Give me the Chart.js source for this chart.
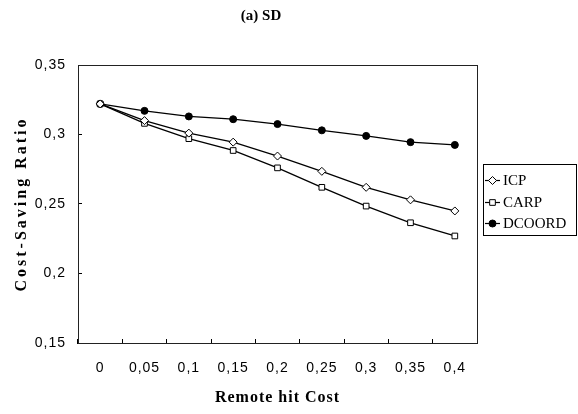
<!DOCTYPE html>
<html><head><meta charset="utf-8">
<script src="https://cdn.jsdelivr.net/npm/chart.js@4/dist/chart.umd.min.js"></script>
<style>html,body{margin:0;padding:0;background:#fff}</style></head>
<body><canvas id="c" width="578" height="414" style="display:block;width:578px;height:414px"></canvas>
<script>
const categories = ['0','0,05','0,1','0,15','0,2','0,25','0,3','0,35','0,4'];
const icp    = [0.322, 0.310, 0.301, 0.2945, 0.2845, 0.2735, 0.262, 0.253, 0.245];
const carp   = [0.322, 0.308, 0.297, 0.2885, 0.276, 0.262, 0.2485, 0.2365, 0.227];
const dcoord = [0.322, 0.317, 0.313, 0.311, 0.3075, 0.303, 0.299, 0.2945, 0.2925];
const seriesNames = ['ICP','CARP','DCOORD'];
const yTicks = [0.15, 0.2, 0.25, 0.3, 0.35];
const chartTitle = '(a) SD';
const xTitle = 'Remote hit Cost';
const yTitle = 'Cost-Saving Ratio';

const fmt = v => String(+v.toFixed(2)).replace('.', ',');

const serif = "'Liberation Serif', 'Times New Roman', serif";
const sans = "'Liberation Sans Narrow', 'Liberation Sans', Arial, sans-serif";

const decorPlugin = {
  id: 'decor',
  beforeDraw(chart) { chart.ctx.letterSpacing = '1px'; },
  beforeDatasetsDraw(chart) { chart.ctx.letterSpacing = '0px'; },
  afterDraw(chart) {
    const ctx = chart.ctx;
    const a = chart.chartArea;
    ctx.save();
    ctx.letterSpacing = '0px';
    // plot frame
    ctx.strokeStyle = '#222';
    ctx.lineWidth = 1;
    ctx.strokeRect(Math.round(a.left) + 0.5, Math.round(a.top) + 0.5, Math.round(a.right - a.left), Math.round(a.bottom - a.top));
    // chart title
    ctx.fillStyle = '#000';
    ctx.font = "bold 15px " + serif;
    ctx.textAlign = 'center';
    ctx.textBaseline = 'middle';
    ctx.fillText(chartTitle, 261, 16);
    // axis titles
    ctx.font = "bold 16px " + serif;
    ctx.letterSpacing = '1px';
    ctx.fillText(xTitle, (a.left + a.right) / 2, 398);
    ctx.save();
    ctx.translate(22, (a.top + a.bottom) / 2);
    ctx.rotate(-Math.PI / 2);
    ctx.letterSpacing = '3px';
    ctx.fillText(yTitle, 0, 0);
    ctx.restore();
    ctx.letterSpacing = '0px';
    // legend
    const bx = 483, by = 164, bw = 94, bh = 71;
    ctx.strokeStyle = '#000';
    ctx.lineWidth = 1;
    ctx.strokeRect(bx + 0.5, by + 0.5, bw - 1, bh);
    const rows = [180, 202, 223];
    ctx.font = "15px " + serif;
    ctx.textAlign = 'left';
    chart.data.datasets.forEach((ds, i) => {
      const y = rows[i] + 0.5;
      ctx.strokeStyle = '#000';
      ctx.lineWidth = 1.2;
      ctx.beginPath();
      ctx.moveTo(485, y);
      ctx.lineTo(500, y);
      ctx.stroke();
      ctx.fillStyle = ds.pointBackgroundColor;
      ctx.strokeStyle = ds.pointBorderColor;
      ctx.lineWidth = 1;
      Chart.helpers.drawPoint(ctx, {
        pointStyle: ds.pointStyle, radius: ds.pointRadius, borderWidth: 1
      }, 492.5, y);
      ctx.fillStyle = '#000';
      ctx.fillText(ds.label, 503, y + 0.5);
    });
    ctx.restore();
  }
};

new Chart(document.getElementById('c'), {
  type: 'line',
  data: {
    labels: categories,
    datasets: [
      { label: seriesNames[0], data: icp, borderColor: '#000', borderWidth: 1.3, pointStyle: 'rectRot', pointRadius: 4, pointBackgroundColor: '#fff', pointBorderColor: '#000', pointBorderWidth: 1 },
      { label: seriesNames[1], data: carp, borderColor: '#000', borderWidth: 1.3, pointStyle: 'rect', pointRadius: 4, pointBackgroundColor: '#fff', pointBorderColor: '#000', pointBorderWidth: 1 },
      { label: seriesNames[2], data: dcoord, borderColor: '#000', borderWidth: 1.3, pointStyle: 'circle', pointRadius: 3.5, pointBackgroundColor: '#000', pointBorderColor: '#000', pointBorderWidth: 1 }
    ]
  },
  options: {
    responsive: false,
    animation: false,
    devicePixelRatio: 1,
    layout: { padding: { top: 65, right: 101, left: 0, bottom: 0 } },
    plugins: { legend: { display: false }, title: { display: false }, tooltip: { enabled: false } },
    elements: { line: { tension: 0 } },
    scales: {
      x: {
        type: 'category',
        offset: true,
        grid: { offset: true, drawOnChartArea: false, tickLength: -4, color: '#000' },
        border: { color: '#000', width: 1 },
        ticks: { color: '#000', font: { family: sans, size: 14 }, padding: 21, maxRotation: 0, autoSkip: false },
        title: { display: false },
        afterFit(s) { s.height = 71; }
      },
      y: {
        min: 0.15, max: 0.35,
        afterBuildTicks(s) { s.ticks = yTicks.map(v => ({ value: v })); },
        grid: { drawOnChartArea: false, tickLength: -4, color: '#000' },
        border: { color: '#000', width: 1 },
        ticks: { color: '#000', font: { family: sans, size: 14 }, padding: 16, callback: v => fmt(v) },
        title: { display: false },
        afterFit(s) { s.width = 78; }
      }
    }
  },
  plugins: [decorPlugin]
});
</script>
</body></html>
